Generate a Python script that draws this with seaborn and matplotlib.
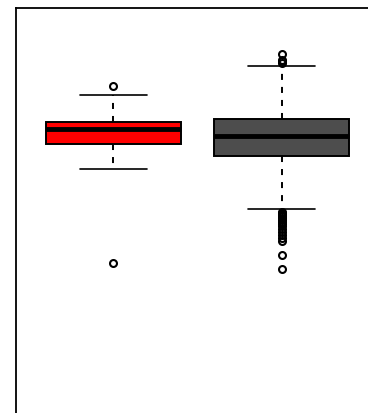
import numpy as np
import pandas as pd
import matplotlib
matplotlib.use("Agg")
import matplotlib.pyplot as plt
import seaborn as sns

# Summary statistics (arbitrary value units)
groups = ["A", "B"]
colors = ["#FF0000", "#4D4D4D"]
q1 = [6.80, 6.20]
median = [7.53, 7.20]
q3 = [7.90, 8.03]
whisker_lo = [5.57, 3.53]
whisker_hi = [9.25, 10.70]
outliers_lo = [
    [0.84],
    [3.40, 3.35, 3.30, 3.25, 3.20, 3.10, 3.00, 2.90, 2.80, 2.70, 2.55,
     2.40, 2.25, 2.10, 1.95, 1.25, 0.55],
]
outliers_hi = [
    [9.70],
    [10.85, 10.93, 11.00, 11.30],
]

# Rebuild a sample per group whose box statistics equal the values above
rows = []
for i, g in enumerate(groups):
    vals = (outliers_lo[i] + [whisker_lo[i]] + [q1[i]] * 40 + [median[i]] * 40
            + [q3[i]] * 40 + [whisker_hi[i]] + outliers_hi[i])
    rows += [(g, v) for v in vals]
df = pd.DataFrame(rows, columns=["group", "value"])

sns.set_style("white")
fig = plt.figure(figsize=(3.68, 4.14), dpi=100)
W, H = 368, 414
ax = fig.add_axes([16 / W, (414 - 441) / H, 363 / W, 432 / H])

lw = 1.4
sns.boxplot(
    data=df, x="group", y="value", hue="group", palette=colors,
    saturation=1, width=0.8, legend=False, ax=ax, whis=1.5,
    linecolor="black", linewidth=lw,
    boxprops=dict(edgecolor="black", linewidth=lw),
    medianprops=dict(color="black", linewidth=3.5),
    whiskerprops=dict(color="black", linewidth=1.4, linestyle=(0, (3.1, 3.6))),
    capprops=dict(color="black", linewidth=1.2),
    flierprops=dict(marker="o", markerfacecolor="none", markeredgecolor="black",
                    markersize=5, markeredgewidth=1.5),
)

ax.set_xlim(-0.58, 1.58)
ax.set_ylim(-8, 13.6)
ax.set_xticks([])
ax.set_yticks([])
ax.set_xlabel("")
ax.set_ylabel("")
for s in ax.spines.values():
    s.set_visible(True)
    s.set_color("black")
    s.set_linewidth(1.3)
ax.set_facecolor("white")
fig.patch.set_facecolor("white")
fig.savefig("out.png", dpi=100)
